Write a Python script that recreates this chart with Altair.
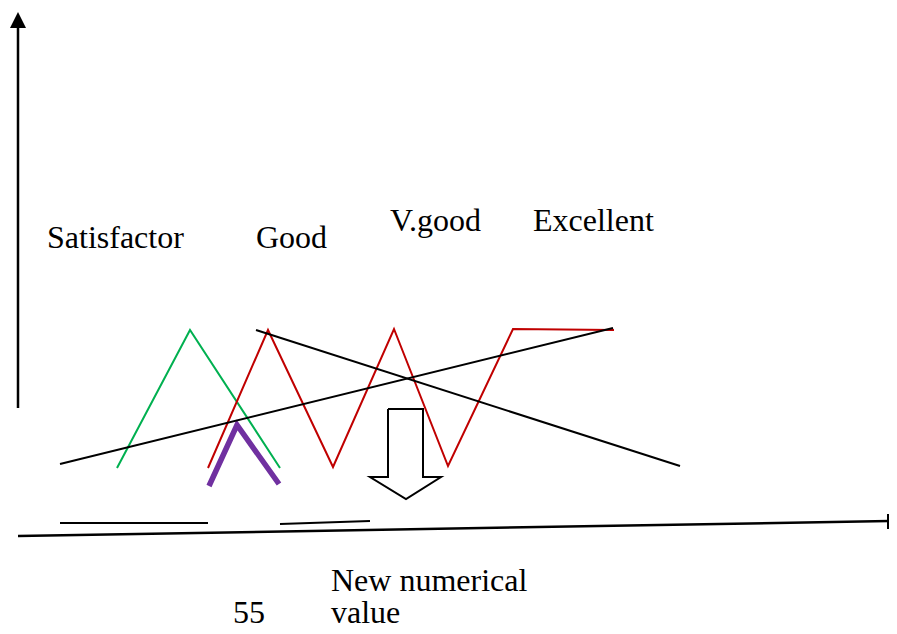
import altair as alt
import pandas as pd

# Diagram strokes: (id, colour, stroke width, list of (x, y) points in picture pixels)
y_axis = [(18, 408), (18, 27)]
x_axis = [(18, 536), (889, 521)]
base_1 = [(60, 523), (208, 523)]
base_2 = [(280, 524), (370, 521)]
green_tri = [(117, 468), (190, 330), (280, 468)]
red_zigzag = [(208, 468), (268, 330), (333, 467), (394, 329), (448, 466), (513, 329), (614, 330)]
purple_peak = [(209, 486), (237, 425), (279, 484)]
black_rise = [(60, 464), (613, 328)]
black_fall = [(256, 330), (680, 466)]
down_arrow = [(388, 409), (423, 409), (423, 477), (441, 477), (406, 499), (370, 477), (388, 477), (388, 409)]

strokes = [
    ("y_axis", "#000000", 2.5, y_axis),
    ("x_axis", "#000000", 2.5, x_axis),
    ("base_1", "#000000", 2, base_1),
    ("base_2", "#000000", 2, base_2),
    ("green", "#00b050", 2, green_tri),
    ("red", "#c00000", 2, red_zigzag),
    ("purple", "#7030a0", 5.5, purple_peak),
    ("black_rise", "#000000", 2, black_rise),
    ("black_fall", "#000000", 2, black_fall),
    ("arrow", "#000000", 2, down_arrow),
]

labels = ["Satisfactor", "Good", "V.good", "Excellent", "New numerical", "value", "55"]
label_x = [47, 256, 390, 533, 331, 331, 233]
label_y = [248, 248, 231, 231, 591, 623, 623]

rows = []
for sid, col, w, pts in strokes:
    for i, (x, y) in enumerate(pts):
        rows.append({"id": sid, "order": i, "x": x, "y": y, "color": col, "w": w})
df = pd.DataFrame(rows)

tdf = pd.DataFrame({"text": labels, "x": label_x, "y": label_y})
heads = pd.DataFrame({"x": [18], "y": [20]})

xs = alt.Scale(domain=[8, 889], nice=False, zero=False)
ys = alt.Scale(domain=[626, 8], nice=False, zero=False)
ax = None

lines = alt.Chart(df).mark_line(strokeCap="butt", strokeJoin="miter").encode(
    x=alt.X("x:Q", scale=xs, axis=ax),
    y=alt.Y("y:Q", scale=ys, axis=ax),
    detail="id:N",
    order="order:Q",
    color=alt.Color("color:N", scale=None),
    strokeWidth=alt.StrokeWidth("w:Q", scale=None),
)

arrowhead = alt.Chart(heads).mark_point(
    shape="M-1,1L0,-1L1,1Z", filled=True, color="#000000", opacity=1, size=256
).encode(
    x=alt.X("x:Q", scale=xs, axis=ax),
    y=alt.Y("y:Q", scale=ys, axis=ax),
)

end_bar = alt.Chart(pd.DataFrame({"x": [888], "y": [514], "y2": [529]})).mark_rule(
    color="#000000", strokeWidth=2
).encode(
    x=alt.X("x:Q", scale=xs, axis=ax),
    y=alt.Y("y:Q", scale=ys, axis=ax),
    y2="y2:Q",
)

texts = alt.Chart(tdf).mark_text(
    align="left", baseline="alphabetic", font="Liberation Serif", fontSize=32, color="#000000"
).encode(
    x=alt.X("x:Q", scale=xs, axis=ax),
    y=alt.Y("y:Q", scale=ys, axis=ax),
    text="text:N",
)

chart = alt.layer(lines, arrowhead, end_bar, texts).properties(
    width=881, height=618, padding=0, autosize=alt.AutoSizeParams(type="none")
).configure_view(stroke=None)

chart.save("out.html", embed_options={"renderer": "svg", "actions": False})
